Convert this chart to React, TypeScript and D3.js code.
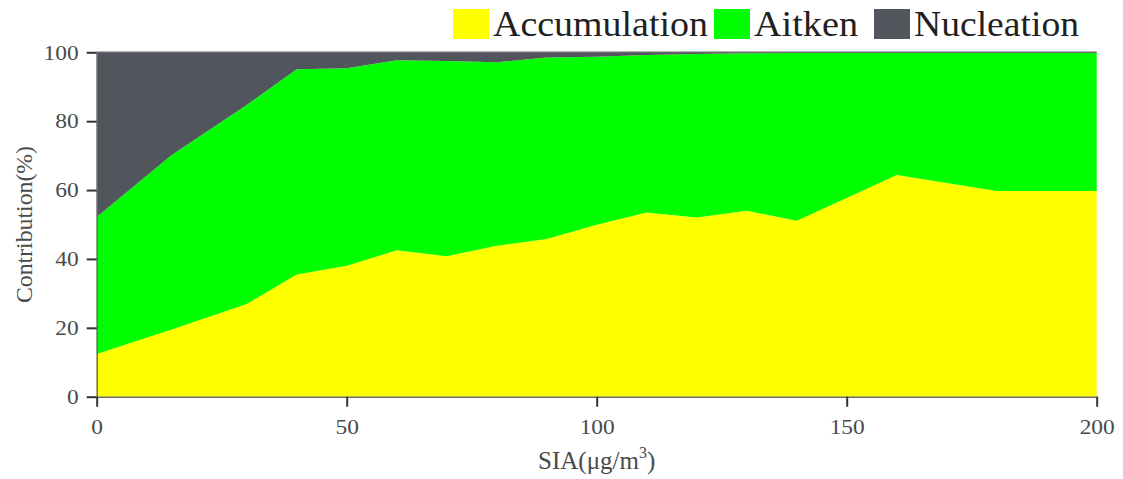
import React, { useEffect, useRef } from 'react';
import * as d3 from 'd3';

// SIA concentration (x) and contribution of each mode (%)
const sia = [0, 15, 30, 40, 50, 60, 70, 80, 90, 100, 110, 120, 130, 140, 150, 160, 180, 200];
const accumulation = [12.4, 19.5, 26.9, 35.5, 38.0, 42.5, 40.8, 43.8, 45.8, 49.9, 53.5, 52.0, 54.0, 51.1, 57.7, 64.4, 59.7, 59.7];
const aitken = [39.8, 50.7, 57.8, 59.6, 57.4, 55.2, 56.7, 53.3, 52.7, 48.8, 45.7, 47.5, 45.7, 48.7, 42.3, 35.6, 40.3, 40.3];
const nucleation = [47.8, 29.8, 15.3, 4.9, 4.6, 2.3, 2.5, 2.9, 1.5, 1.3, 0.8, 0.5, 0.3, 0.2, 0, 0, 0, 0];

const modeNames = ['Accumulation', 'Aitken', 'Nucleation'];
const modeColors = ['#ffff00', '#00ff00', '#50565c'];
const xTicks = [0, 50, 100, 150, 200];
const yTicks = [0, 20, 40, 60, 80, 100];

const ContributionChart = () => {
  const svgRef = useRef<SVGSVGElement>(null);

  useEffect(() => {
    const svg = d3.select(svgRef.current);
    const width = 1123;
    const height = 479;
    const margin = { top: 52.3, right: 26.3, bottom: 82.3, left: 96.7 };
    const innerWidth = width - margin.left - margin.right;
    const innerHeight = height - margin.top - margin.bottom;
    const serif = '"Liberation Serif", "Times New Roman", serif';

    const rows = sia.map((x, i) => ({
      x,
      Accumulation: accumulation[i],
      Aitken: aitken[i],
      Nucleation: nucleation[i],
    }));

    const x = d3.scaleLinear().domain([0, 200]).range([0, innerWidth]);
    const y = d3.scaleLinear().domain([0, 100]).range([innerHeight, 0]);

    const stacked = d3.stack<any>().keys(modeNames)(rows);

    const g = svg.append('g').attr('transform', `translate(${margin.left},${margin.top})`);

    const area = d3
      .area<any>()
      .x((d) => x(d.data.x))
      .y0((d) => y(d[0]))
      .y1((d) => y(Math.min(100, d[1])));

    g.selectAll('path.layer')
      .data(stacked)
      .enter()
      .append('path')
      .attr('class', 'layer')
      .attr('d', area as any)
      .attr('fill', (_d, i) => modeColors[i]);

    // top frame line
    g.append('line')
      .attr('x1', 0)
      .attr('x2', innerWidth)
      .attr('y1', 0)
      .attr('y2', 0)
      .attr('stroke', '#6b6b6b')
      .attr('stroke-width', 1.5);

    // axes
    const xAxis = d3.axisBottom(x).tickValues(xTicks).tickSize(10).tickPadding(12.4).tickSizeOuter(0);
    const yAxis = d3.axisLeft(y).tickValues(yTicks).tickSize(10).tickPadding(8).tickSizeOuter(0);

    const gx = g.append('g').attr('transform', `translate(0,${innerHeight})`).call(xAxis);
    const gy = g.append('g').call(yAxis);

    [gx, gy].forEach((ax) => {
      ax.select('.domain').attr('stroke', '#6b6b6b').attr('stroke-width', 1.5);
      ax.selectAll('.tick line').attr('stroke', '#333').attr('stroke-width', 2);
      ax.selectAll('.tick text')
        .attr('fill', '#4a4a4a')
        .attr('textLength', (d: any) => String(d).length * 11.7)
        .attr('lengthAdjust', 'spacingAndGlyphs')
        .style('font-family', serif)
        .style('font-size', '21px');
    });

    // axis titles
    const xt = svg
      .append('text')
      .attr('x', margin.left + innerWidth / 2)
      .attr('y', 469)
      .attr('text-anchor', 'middle')
      .attr('fill', '#4a4a4a')
      .style('font-family', serif)
      .style('font-size', '25px');
    xt.append('tspan').text('SIA(μg/m');
    xt.append('tspan').attr('dy', -11).style('font-size', '16px').text('3');
    xt.append('tspan').attr('dy', 11).text(')');

    svg
      .append('text')
      .attr('transform', 'rotate(-90)')
      .attr('x', -(margin.top + innerHeight / 2))
      .attr('y', 32)
      .attr('text-anchor', 'middle')
      .attr('fill', '#4a4a4a')
      .attr('textLength', 157)
      .attr('lengthAdjust', 'spacingAndGlyphs')
      .style('font-family', serif)
      .style('font-size', '23px')
      .text('Contribution(%)');

    // legend
    const legendX = [453, 714, 874];
    const legendLen = [215, 104, 165];
    const legend = svg
      .selectAll('g.legend')
      .data(modeNames)
      .enter()
      .append('g')
      .attr('class', 'legend')
      .attr('transform', (_d, i) => `translate(${legendX[i]},0)`);

    legend
      .append('rect')
      .attr('x', 0)
      .attr('y', 9)
      .attr('width', 36)
      .attr('height', 30)
      .attr('fill', (_d, i) => modeColors[i]);

    legend
      .append('text')
      .attr('x', 40)
      .attr('y', 36)
      .attr('fill', '#231f20')
      .attr('textLength', (_d, i) => legendLen[i])
      .attr('lengthAdjust', 'spacingAndGlyphs')
      .style('font-family', serif)
      .style('font-size', '35px')
      .text((d) => d);

    return () => {
      svg.selectAll('*').remove();
    };
  }, []);

  return (
    <svg
      ref={svgRef}
      width={1123}
      height={479}
      style={{ position: 'absolute', left: 0, top: 0, background: '#fff' }}
    ></svg>
  );
};

export default function App() {
  return <ContributionChart />;
}
